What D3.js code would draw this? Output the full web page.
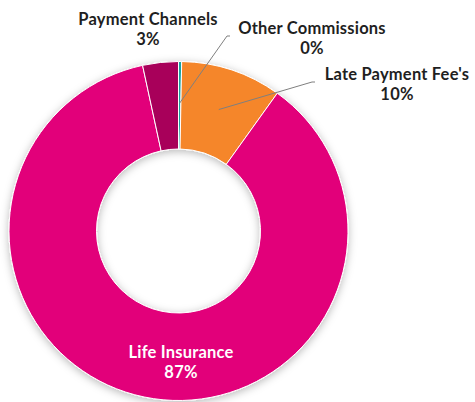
<!DOCTYPE html>
<html>
<head>
<meta charset="utf-8">
<script src="https://cdn.jsdelivr.net/npm/d3@7"></script>
<style>
  body { margin: 0; background: #fff; }
  .lbl { font-family: Lato, "Open Sans", sans-serif; font-weight: bold; font-size: 16.5px; fill: #1f1f1f; letter-spacing: 0.2px; }
</style>
</head>
<body>
<svg id="donut" width="475" height="402"></svg>
<script>
    // data, in the order the slices go round clockwise from 12 o'clock
    const categories = ["Other Commissions", "Late Payment Fee's", "Life Insurance", "Payment Channels"];
    const values = [0.3, 9.6, 86.7, 3.4];
    const colors = ["#17a2a0", "#f5862b", "#e2007a", "#a8005a"];

    let svg = d3.select("svg#donut");
    let cx = 178.5, cy = 231;
    let outerR = 169.5, innerR = 82;

    // soft shadow like excel
    let defs = svg.append("defs");
    let f = defs.append("filter").attr("id", "shadow")
      .attr("x", "-20%").attr("y", "-20%").attr("width", "140%").attr("height", "140%");
    f.append("feDropShadow")
      .attr("dx", 0).attr("dy", 2).attr("stdDeviation", 4)
      .attr("flood-color", "#000").attr("flood-opacity", 0.28);

    const colorScale = d3.scaleOrdinal().domain(categories).range(colors);

    let pie = d3.pie().sort(null).value(d => d.value);
    let data = categories.map((c, i) => ({ name: c, value: values[i] }));
    let arcs = pie(data);
    let total = d3.sum(values);

    let arc = d3.arc().innerRadius(innerR).outerRadius(outerR);
    let midArc = d3.arc().innerRadius(128).outerRadius(128);

    let g = svg.append("g").attr("transform", "translate(" + cx + "," + cy + ")");

    g.append("g").attr("filter", "url(#shadow)")
      .selectAll("path")
      .data(arcs)
      .join("path")
      .attr("d", arc)
      .attr("fill", d => colorScale(d.data.name))
      .attr("stroke", "#fff")
      .attr("stroke-width", 1);

    // labels: [text x, first baseline y, leader end x, leader end y]  (absolute coords)
    const labelPos = {
      "Other Commissions": [312, 34, 230, 36],
      "Late Payment Fee's": [397, 80, 315, 82],
      "Life Insurance": [181, 358, null, null],
      "Payment Channels": [148, 25, null, null]
    };

    arcs.forEach(d => {
      let p = labelPos[d.data.name];
      let pct = Math.round(d.data.value / total * 100) + "%";
      let inside = d.data.name === "Life Insurance";

      let t = svg.append("text").attr("class", "lbl")
        .attr("text-anchor", "middle")
        .attr("x", p[0]).attr("y", p[1])
        .style("fill", inside ? "#fff" : null);
      t.append("tspan").attr("x", p[0]).text(d.data.name);
      t.append("tspan").attr("x", p[0]).attr("dy", 20).text(pct);

      if (p[2] !== null) {
        let c = midArc.centroid(d);
        let sx = cx + c[0], sy = cy + c[1];
        svg.append("polyline")
          .attr("points", [[sx, sy], [p[2] - 3, p[3]], [p[2], p[3]]].map(q => q.join(",")).join(" "))
          .attr("fill", "none")
          .attr("stroke", "#7f7f7f")
          .attr("stroke-width", 1);
      }
    });
</script>
</body>
</html>
